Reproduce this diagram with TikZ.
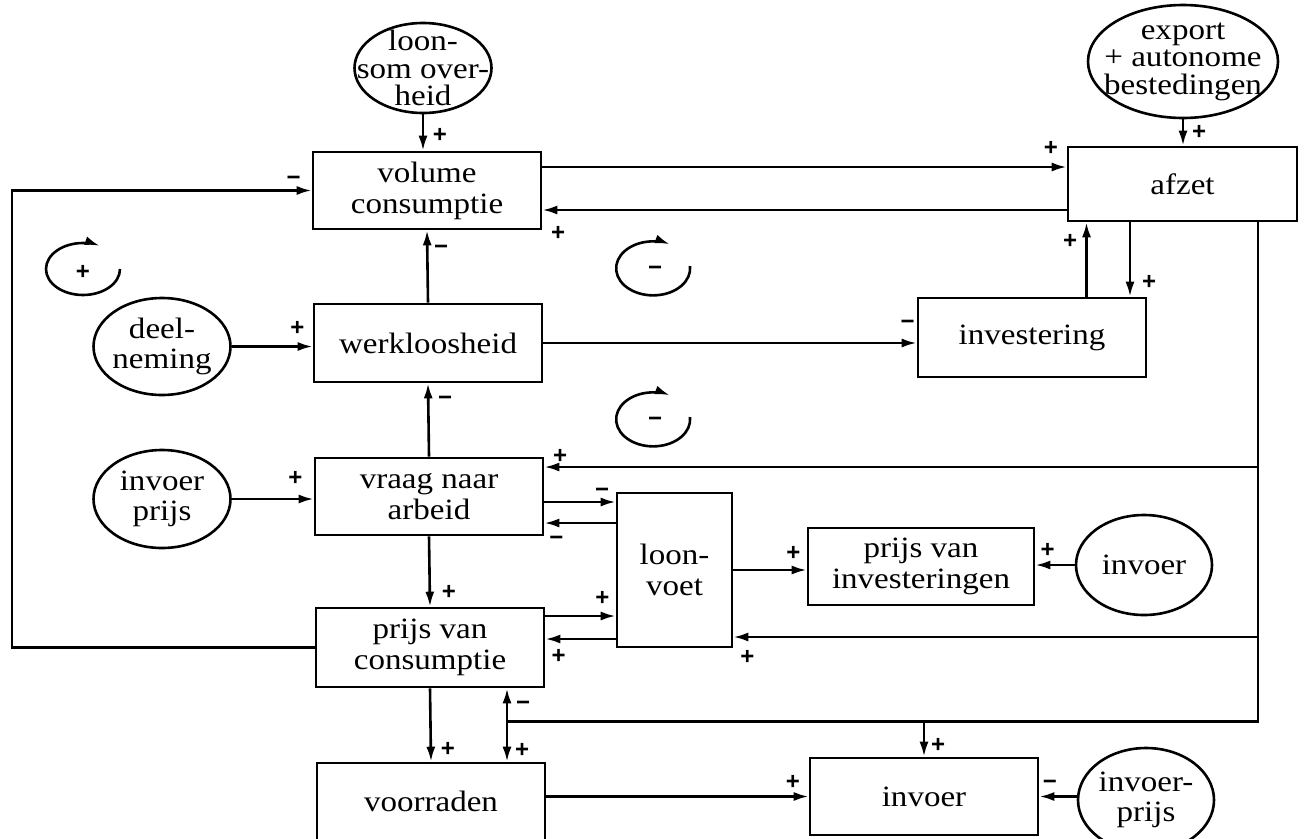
\documentclass[tikz,border=0pt]{standalone}
\usepackage{fontspec}
\setmainfont{Liberation Serif}[FakeStretch=1.12]
\newfontfamily\signfont{Liberation Sans}
\usepackage{tikz}
\usetikzlibrary{arrows.meta, shapes.geometric, positioning, calc}

\begin{document}
\begin{tikzpicture}[x=1pt, y=-1pt, >={Latex[length=15pt, width=9pt]},
  line width=2.6pt,
  blok/.style={draw, minimum width=228pt, minimum height=77pt, inner sep=0pt,
    align=center, font=\fontsize{29.5}{31}\selectfont},
  bron/.style={draw, ellipse, inner sep=0pt},
  bronlabel/.style={align=center, inner sep=0pt,
    font=\fontsize{29.5}{29.5}\selectfont},
  bronlabeldrie/.style={bronlabel, font=\fontsize{29.5}{27.5}\selectfont},
  teken/.style={inner sep=0pt, text height=15pt, text depth=0pt,
    font=\signfont\bfseries\fontsize{24}{24}\selectfont},
  lus/.style={->, line width=2.6pt}]

  \useasboundingbox (0,0) rectangle (1305,838);

  % middenkolom
  \node[blok] (vol) at (427,190.5) {volume\\consumptie};
  \node[blok, minimum height=78pt] (werk) at (428,343) {werkloosheid};
  \node[blok] (vraag) at (429,496.5) {vraag naar\\arbeid};
  \node[blok, minimum height=79pt] (prijscons) at (430,647.5) {prijs van\\consumptie};
  \node[blok] (voorr) at (431,801.5) {voorraden};

  % rechts
  \node[blok, minimum width=229pt, minimum height=74pt] (afzet) at (1182.5,184) {afzet};
  \node[blok, minimum height=79pt] (inv) at (1032,337.5) {investering};
  \node[blok, minimum width=115pt, minimum height=154pt] (loon) at (674.5,570) {loon-\\voet};
  \node[blok, minimum width=226pt] (prijsinv) at (921,566.5) {prijs van\\investeringen};
  \node[blok] (invoerbox) at (924,796.5) {invoer};

  % exogene grootheden
  \node[bron, minimum width=137pt, minimum height=90pt,
        label={[bronlabeldrie]center:{loon-\\som over-\\heid}}] (loonsom) at (423,68) {};
  \node[bron, minimum width=190pt, minimum height=113pt,
        label={[bronlabeldrie]center:{export\\+ autonome\\bestedingen}}] (export) at (1183,61.5) {};
  \node[bron, minimum width=137pt, minimum height=97pt,
        label={[bronlabel]center:{deel-\\neming}}] (deeln) at (162,346.5) {};
  \node[bron, minimum width=137pt, minimum height=98pt,
        label={[bronlabel]center:{invoer\\prijs}}] (invprijs) at (162,499) {};
  \node[bron, minimum width=136pt, minimum height=100pt,
        label={[bronlabel]center:{invoer}}] (invoerbron) at (1144,565) {};
  \node[bron, minimum width=136pt, minimum height=104pt,
        label={[bronlabel]center:{invoer-\\prijs}}] (invoerprijs) at (1146,800) {};

  % hulppunten
  \coordinate (links) at (12,0);
  \coordinate (va) at ($(vol.east)+(0,-23.5)$);
  \coordinate (av) at ($(afzet.west)+(0,26)$);
  \coordinate (ia) at ($(inv.north)+(54.5,0)$);
  \coordinate (ai) at ($(afzet.south)+(-52.5,0)$);
  \coordinate (az) at ($(afzet.south)+(75.5,0)$);
  \coordinate (vr) at ($(vraag.east)+(0,-29.5)$);
  \coordinate (lv) at ($(loon.east)+(0,67)$);
  \coordinate (onder) at ($(prijscons.south)+(77,33)$);
  \coordinate (vl) at ($(vraag.east)+(0,5.5)$);
  \coordinate (lvr) at ($(vraag.east)+(0,26.5)$);
  \coordinate (pl) at ($(prijscons.east)+(0,-31.5)$);
  \coordinate (lp) at ($(prijscons.east)+(0,-8.5)$);

  % bovenste lus
  \draw[->] (loonsom.south) -- (loonsom.south |- vol.north)
    node[teken, pos=.56, xshift=17pt] {+};
  \draw[->] (prijscons.west) -- (prijscons.west -| links) |- (vol.west)
    node[teken, pos=.97, yshift=12.5pt] {−};
  \draw[->] (va) -- (va -| afzet.west) node[teken, pos=.97, yshift=19pt] {+};
  \draw[->] (av) -- (av -| vol.east) node[teken, pos=.97, yshift=-23pt] {+};
  \draw[->] (werk.north) -- (vol.south) node[teken, pos=.77, xshift=14pt] {−};
  \draw[->] (deeln.east) -- (deeln.east -| werk.west)
    node[teken, pos=.81, yshift=18.5pt] {+};
  \draw[->] (werk.east) -- (werk.east -| inv.west) node[teken, pos=.976, yshift=21pt] {−};
  \draw[->] (ia) -- (ia |- afzet.south) node[teken, pos=.75, xshift=-16.5pt] {+};
  \draw[->] (ai) -- (ai |- inv.north) node[teken, pos=.8, xshift=19pt] {+};
  \draw[->] (export.south) -- (export.south |- afzet.north)
    node[teken, pos=.48, xshift=16pt] {+};

  % arbeid en prijzen
  \draw[->] (vraag.north) -- (werk.south) node[teken, pos=.8, xshift=17pt] {−};
  \draw[->] (invprijs.east) -- (invprijs.east -| vraag.west)
    node[teken, pos=.775, yshift=21pt] {+};
  \draw[->] (vl) -- (vl -| loon.west) node[teken, pos=.81, yshift=12pt] {−};
  \draw[->] (lvr -| loon.west) -- (lvr) node[teken, pos=.83, yshift=-15pt] {−};
  \draw[->] (pl) -- (pl -| loon.west) node[teken, pos=.81, yshift=18pt] {+};
  \draw[->] (lp -| loon.west) -- (lp) node[teken, pos=.81, yshift=-17pt] {+};
  \draw[->] (loon.east) -- (loon.east -| prijsinv.west)
    node[teken, pos=.82, yshift=17pt] {+};
  \draw[->] (invoerbron.west) -- (invoerbron.west -| prijsinv.east)
    node[teken, pos=.69, yshift=15pt] {+};
  \draw[->] (vraag.south) -- (prijscons.north) node[teken, pos=.79, xshift=19pt] {+};
  \draw[->] (prijscons.south) -- (voorr.north) node[teken, pos=.83, xshift=17pt] {+};

  % afzet naar beneden
  \draw (az) -- (az |- onder) -- (onder);
  \draw[->] (az |- vr) -- (vr) node[teken, pos=.978, yshift=11pt] {+};
  \draw[->] (az |- lv) -- (lv) node[teken, pos=.973, yshift=-20pt] {+};
  \draw[->] (onder) -- (onder |- prijscons.south) node[teken, pos=.55, xshift=16pt] {−};
  \draw[->] (onder) -- (onder |- voorr.north) node[teken, pos=.7, xshift=15pt] {+};
  \draw[->] (onder -| invoerbox.north) -- (invoerbox.north)
    node[teken, pos=.66, xshift=14pt] {+};

  % invoer
  \draw[->] (invoerbox.west -| voorr.east) -- (invoerbox.west)
    node[teken, pos=.94, yshift=15pt] {+};
  \draw[->] (invoerbox.east -| invoerprijs.west) -- (invoerbox.east)
    node[teken, pos=.72, yshift=15pt] {−};

  % lussymbolen
  \draw[lus] (83,269) ++(37pt,0) arc[start angle=0, end angle=-297, x radius=37pt, y radius=26pt];
  \node[teken] (luspos) at (83,272) {+};
  \draw[lus] (653,266) ++(37pt,0) arc[start angle=5, end angle=-297, x radius=37pt, y radius=27pt];
  \node[teken] (lusneg1) at (655,268) {−};
  \draw[lus] (653,417) ++(37pt,0) arc[start angle=5, end angle=-297, x radius=37pt, y radius=27pt];
  \node[teken] (lusneg2) at (655,419) {−};

\end{tikzpicture}
\end{document}
